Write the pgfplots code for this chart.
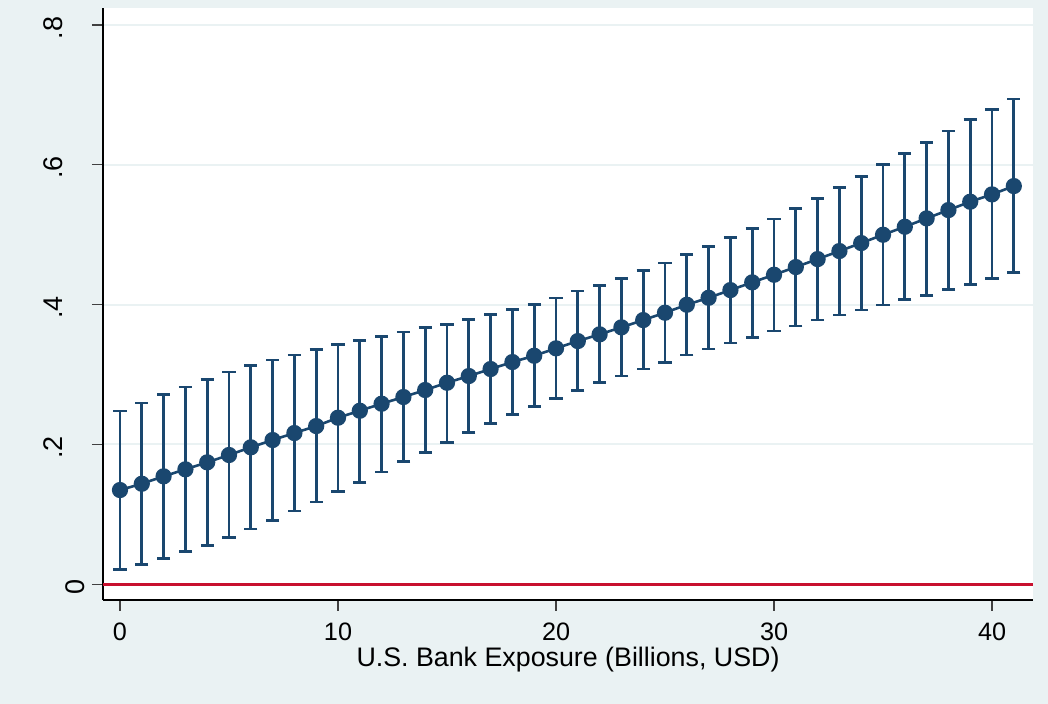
\documentclass[border=0pt]{standalone}
\usepackage{pgfplots}
\pgfplotsset{compat=1.18}
\usepackage{pgfplotstable}
\usepackage{fontspec}
\setmainfont{Liberation Sans}
\definecolor{bgc}{RGB}{234,242,243}
\definecolor{stnavy}{RGB}{26,71,111}
\definecolor{redl}{RGB}{200,16,46}
\pgfplotstableread{
x y lo hi
0 0.1348 0.0214 0.2477
1 0.1438 0.0286 0.2592
2 0.1544 0.0372 0.2711
3 0.1644 0.0466 0.2821
4 0.1744 0.0558 0.2931
5 0.1849 0.0672 0.3035
6 0.1959 0.0791 0.3125
7 0.2063 0.0910 0.3207
8 0.2163 0.1048 0.3278
9 0.2263 0.1177 0.3354
10 0.2382 0.1324 0.3426
11 0.2482 0.1458 0.3483
12 0.2582 0.1605 0.3545
13 0.2678 0.1753 0.3607
14 0.2778 0.1889 0.3667
15 0.2882 0.2030 0.3717
16 0.2978 0.2167 0.3788
17 0.3078 0.2296 0.3854
18 0.3178 0.2425 0.3931
19 0.3268 0.2539 0.3997
20 0.3374 0.2659 0.4093
21 0.3478 0.2768 0.4193
22 0.3574 0.2882 0.4274
23 0.3674 0.2978 0.4375
24 0.3778 0.3078 0.4489
25 0.3883 0.3174 0.4593
26 0.3997 0.3278 0.4712
27 0.4097 0.3364 0.4832
28 0.4207 0.3450 0.4961
29 0.4317 0.3533 0.5091
30 0.4426 0.3621 0.5222
31 0.4536 0.3693 0.5370
32 0.4650 0.3779 0.5518
33 0.4765 0.3850 0.5675
34 0.4879 0.3921 0.5827
35 0.4998 0.3993 0.6004
36 0.5112 0.4069 0.6154
37 0.5232 0.4131 0.6313
38 0.5351 0.4217 0.6480
39 0.5470 0.4289 0.6642
40 0.5575 0.4375 0.6791
41 0.5694 0.4460 0.6938
}\datatable
\begin{document}
\begin{tikzpicture}
\fill[bgc] (0,0) rectangle (524pt,352pt);
\begin{axis}[
  at={(51.5pt,52pt)}, anchor=south west,
  scale only axis, width=465pt, height=296pt,
  xmin=-0.78, xmax=41.88, ymin=-0.0224, ymax=0.824,
  axis background/.style={fill=white},
  axis lines=left,
  axis line style={-, black, line width=0.8pt},
  tick align=outside,
  major tick length=5.5pt,
  tick style={line width=0.8pt, black!75},
  xtick={0,10,20,30,40},
  ytick={0,0.2,0.4,0.6,0.8},
  yticklabels={0,\raisebox{11pt}{.2},\raisebox{11pt}{.4},\raisebox{11pt}{.6},\raisebox{11pt}{.8}},
  ymajorgrids,
  grid style={bgc, line width=1pt},
  /pgf/number format/assume math mode=true,
  xticklabel style={font=\fontsize{12.6}{14}\selectfont, anchor=north, yshift=-2.5pt},
  yticklabel style={font=\fontsize{13.5}{15}\selectfont, rotate=90, anchor=south, xshift=-1.5pt},
  xlabel={U.S. Bank Exposure (Billions, USD)},
  xlabel style={font=\fontsize{13.4}{16}\selectfont, at={(axis description cs:0.5,0)}, anchor=base, yshift=-33.5pt},
  clip=false,
]
\addplot[redl, line width=1.2pt, forget plot] coordinates {(-0.78,0) (41.88,0)};
\addplot[stnavy, line width=1.3pt, mark=*, mark size=3.4pt,
  mark options={fill=stnavy, draw=stnavy},
  error bars/.cd, y dir=both, y explicit,
  error bar style={line width=1.4pt, stnavy},
  error mark options={rotate=90, line width=1.4pt, mark size=3.3pt, stnavy}]
  table[x=x, y=y, y error plus expr=\thisrow{hi}-\thisrow{y}, y error minus expr=\thisrow{y}-\thisrow{lo}] {\datatable};
\end{axis}
\end{tikzpicture}
\end{document}
